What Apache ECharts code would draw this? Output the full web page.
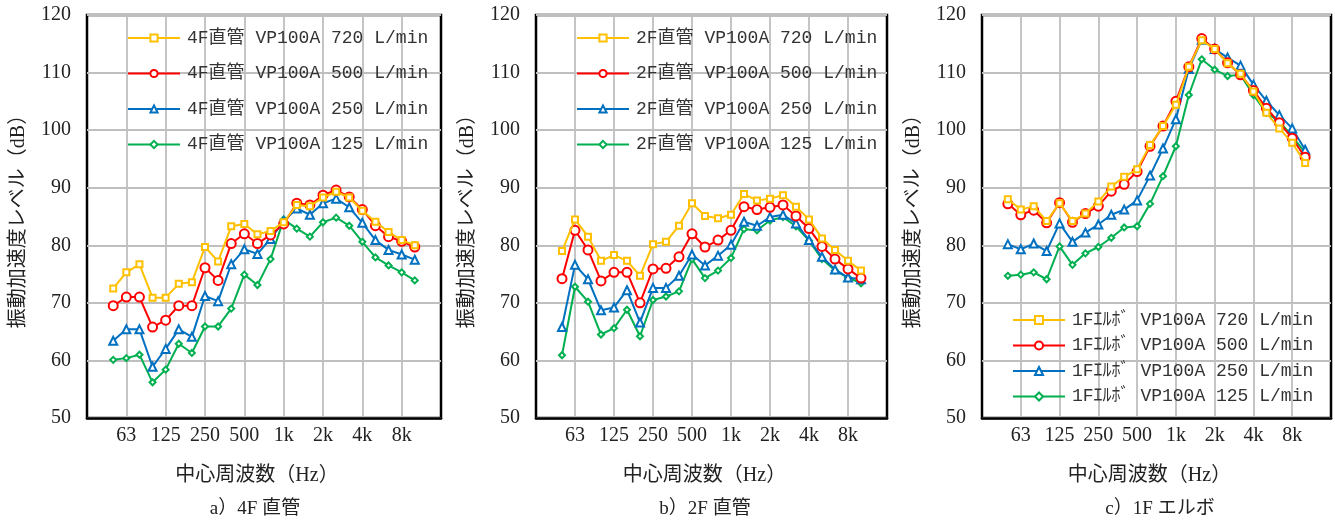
<!DOCTYPE html>
<html><head><meta charset="utf-8">
<script src="https://cdn.jsdelivr.net/npm/echarts@6/dist/echarts.min.js"></script>
<style>html,body{margin:0;padding:0;background:#fff}#c{width:1335px;height:522px}</style>
</head><body><div id="c"></div>
<script>
// 1/3 octave band axis (edges 31.5 Hz .. 16 kHz)
const AXIS_BANDS = ['31.5','40','50','63','80','100','125','160','200','250','315','400','500','630','800','1k','1.25k','1.6k','2k','2.5k','3.15k','4k','5k','6.3k','8k','10k','12.5k','16k'];
// measured bands 50 Hz .. 10 kHz
const BANDS = ['50','63','80','100','125','160','200','250','315','400','500','630','800','1k','1.25k','1.6k','2k','2.5k','3.15k','4k','5k','6.3k','8k','10k'];
const TICK_LABELS = ['63','125','250','500','1k','2k','4k','8k'];
const Y_TICKS = [50,60,70,80,90,100,110,120];

// a) 4F straight pipe
const A_720 = [72.5,75.3,76.7,70.9,70.9,73.3,73.6,79.7,77.2,83.3,83.7,81.9,82.5,84.0,87.0,86.8,88.3,89.3,88.3,86.0,84.1,82.3,80.9,80.0];
const A_500 = [69.5,71.0,71.0,65.8,67.0,69.5,69.5,76.1,73.9,80.3,82.0,80.3,81.8,83.7,87.3,87.0,88.7,89.6,88.4,86.2,83.4,81.5,80.7,79.7];
const A_250 = [63.4,65.4,65.4,58.9,62.0,65.4,64.1,71.2,70.3,76.7,79.3,78.5,81.1,84.2,86.4,85.3,87.3,88.1,86.6,83.9,80.9,79.2,78.4,77.5];
const A_125 = [60.1,60.4,61.0,56.2,58.4,62.9,61.3,65.9,65.9,69.0,74.9,73.1,77.6,84.5,82.9,81.5,84.0,84.8,83.4,80.6,77.9,76.5,75.3,73.9];
// b) 2F straight pipe
const B_720 = [79.0,84.5,81.5,77.3,78.3,77.3,74.7,80.2,80.6,83.4,87.3,85.1,84.7,85.3,88.9,87.8,88.1,88.7,86.7,84.5,81.2,79.2,77.3,75.6];
const B_500 = [74.2,82.6,79.2,73.8,75.3,75.3,70.0,75.9,76.0,78.0,82.0,79.7,80.9,82.6,86.7,86.2,86.6,87.0,85.1,82.9,79.8,77.6,75.9,74.3];
const B_250 = [65.8,76.6,74.1,68.7,69.2,72.2,66.6,72.6,72.6,74.7,78.4,76.5,78.2,80.1,84.1,83.4,84.9,85.3,83.8,80.9,78.0,75.8,74.4,74.1];
const B_125 = [60.9,72.8,70.2,64.5,65.6,68.8,64.2,70.5,71.1,72.0,77.6,74.3,75.6,77.8,82.8,82.6,84.3,84.9,83.3,80.8,77.6,75.6,74.4,73.4];
// c) 1F elbow
const C_720 = [88.0,86.2,86.8,84.2,87.3,84.2,85.5,87.6,90.2,91.9,93.2,97.4,100.7,104.4,111.0,115.6,114.1,111.6,109.8,106.7,103.0,100.3,97.8,94.3];
const C_500 = [87.2,85.3,86.1,83.9,87.4,84.0,85.5,86.8,89.4,90.6,92.8,97.2,100.7,105.0,111.0,115.9,114.1,111.7,109.6,106.9,103.8,101.3,98.6,95.3];
const C_250 = [80.2,79.3,80.3,79.0,83.8,80.6,82.2,83.6,85.3,86.2,87.8,92.1,96.8,101.9,110.6,115.7,114.1,112.6,111.2,107.9,105.1,102.6,100.3,96.6];
const C_125 = [74.7,74.9,75.3,74.1,79.8,76.6,78.6,79.7,81.3,83.1,83.3,87.2,92.0,97.2,106.1,112.3,110.5,109.4,109.6,106.1,103.0,101.5,98.9,96.1];

const FLOWS = ['720','500','250','125'];
const PANELS = [
  {prefix:'4F直管', sub:'a）4F 直管', data:[A_720,A_500,A_250,A_125]},
  {prefix:'2F直管', sub:'b）2F 直管', data:[B_720,B_500,B_250,B_125]},
  {prefix:'1Fｴﾙﾎﾞ', sub:'c）1F エルボ', data:[C_720,C_500,C_250,C_125]}
];

const COLORS = ['#FFC000','#FF0000','#0070C0','#00B050'];
const SYMBOLS = ['emptyRect','emptyCircle','emptyTriangle','emptyDiamond'];
const SYM_SIZE = [6,9,8,6];
const GRIDS = [
  {left:87, top:15, width:354, height:403},
  {left:536, top:15, width:351, height:403},
  {left:982, top:15, width:349, height:403}
];
const SUB_X = [250, 700, 1155];
const LEGENDS = [
  {left:127, top:29, itemGap:17.5, h:9},
  {left:576, top:29, itemGap:17.5, h:9},
  {left:1012, top:311, itemGap:7.5, h:10}
];

const SERIF = '"Liberation Serif","Noto Sans CJK JP",serif';
const MONO = '"Liberation Mono","Noto Sans CJK JP",monospace';

const option = {
  backgroundColor:'#fff',
  animation:false,
  title:[], grid:[], xAxis:[], yAxis:[], legend:[], series:[]
};

PANELS.forEach((p,pi)=>{
  const g = GRIDS[pi];
  option.grid.push({left:g.left, top:g.top, width:g.width, height:g.height, show:true, borderColor:'#000', borderWidth:2.5, backgroundColor:'transparent', containLabel:false});
  option.title.push({text:p.sub, left:SUB_X[pi], top:495, textAlign:'center',
    textStyle:{fontFamily:SERIF, fontSize:19, fontWeight:'normal', color:'#222'}});
  option.xAxis.push({
    type:'category', gridIndex:pi, data:AXIS_BANDS, boundaryGap:false,
    name:'中心周波数（Hz）', nameLocation:'middle', nameGap:48,
    nameTextStyle:{fontFamily:SERIF, fontSize:20, color:'#222', padding:[0,14,0,0]},
    axisLine:{show:true, lineStyle:{color:'#000', width:2.5}},
    axisTick:{show:false},
    axisLabel:{interval:(i,v)=>TICK_LABELS.includes(v), fontFamily:SERIF, fontSize:20, color:'#222', margin:8},
    splitLine:{show:true, interval:(i,v)=>TICK_LABELS.includes(v), lineStyle:{color:'#BFBFBF', width:1.8}}
  });
  option.yAxis.push({
    type:'value', gridIndex:pi, min:Y_TICKS[0], max:Y_TICKS[Y_TICKS.length-1], interval:10,
    name:'振動加速度レベル（dB）', nameLocation:'middle', nameGap:58, nameRotate:90,
    nameTextStyle:{fontFamily:SERIF, fontSize:20, color:'#222'},
    axisLine:{show:false}, axisTick:{show:false},
    axisLabel:{fontFamily:SERIF, fontSize:20, color:'#222', margin:16},
    splitLine:{show:true, lineStyle:{color:'#BFBFBF', width:1.8}}
  });
  const names = FLOWS.map(f=>p.prefix+' VP100A '+f+' L/min');
  const lg = LEGENDS[pi];
  option.legend.push({
    orient:'vertical', left:lg.left, top:lg.top, padding:0, itemGap:lg.itemGap,
    itemWidth:52, itemHeight:lg.h, data:names,
    textStyle:{fontFamily:MONO, fontSize:18, color:'#333', padding:[0,0,0,2]}
  });
  p.data.forEach((vals,si)=>{
    option.series.push({
      type:'line', name:names[si], xAxisIndex:pi, yAxisIndex:pi,
      data:vals.map((v,i)=>[BANDS[i], v]),
      symbol:SYMBOLS[si], symbolSize:SYM_SIZE[si], showAllSymbol:true,
      lineStyle:{color:COLORS[si], width:2},
      itemStyle:{color:COLORS[si], borderColor:COLORS[si], borderWidth:1.8},
      z:10-si
    });
  });
});

const chart = echarts.init(document.getElementById('c'), null, {renderer:'canvas'});
chart.setOption(option);
</script>
</body></html>
